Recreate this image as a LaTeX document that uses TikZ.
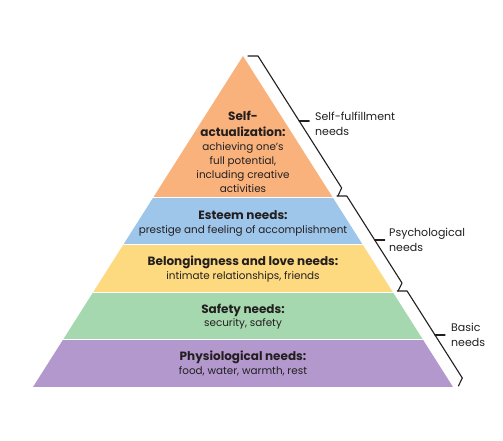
\documentclass[tikz,border=0pt]{standalone}
\usepackage{fontspec}
\setmainfont{Poppins}
\definecolor{ink}{HTML}{231F20}
\definecolor{cOrange}{RGB}{249,178,124}
\definecolor{cBlue}{RGB}{158,197,234}
\definecolor{cYellow}{RGB}{253,217,127}
\definecolor{cGreen}{RGB}{166,216,175}
\definecolor{cPurple}{RGB}{178,152,204}
\tikzset{
  title/.style={font=\bfseries\fontsize{12}{16}\selectfont, text=ink, inner sep=0pt, align=center},
  body/.style={font=\fontsize{10.4}{14}\selectfont, text=ink, inner sep=0pt, align=center},
  side/.style={font=\fontsize{11}{15.5}\selectfont, text=ink, align=left, anchor=west, inner sep=0pt},
  bracket/.style={draw=ink, line width=1.1pt, line join=round, line cap=round},
  sep/.style={draw=white, line width=0.7pt}
}
\begin{document}
\begin{tikzpicture}[x=1pt,y=-1pt]
\useasboundingbox (0,0) rectangle (503,441);
\fill[white] (0,0) rectangle (503,441);
% pyramid
\coordinate (apex) at (243,56);
\coordinate (bl) at (33,387);
\coordinate (br) at (453,387);
\begin{scope}
  \clip (apex) -- (br) -- (bl) -- cycle;
  \fill[cOrange] (0,40) rectangle (503,197);
  \fill[cBlue]   (0,197) rectangle (503,244);
  \fill[cYellow] (0,244) rectangle (503,292);
  \fill[cGreen]  (0,292) rectangle (503,339);
  \fill[cPurple] (0,339) rectangle (503,387);
  \draw[sep] (0,197) -- (503,197);
  \draw[sep] (0,244) -- (503,244);
  \draw[sep] (0,292) -- (503,292);
  \draw[sep] (0,339) -- (503,339);
\end{scope}
% texts in pyramid
\node[title] (sat) at (243,124) {Self-\\actualization:};
\node[body] (sab) at (243,168) {achieving one’s\\full potential,\\including creative\\activities};
\node[title] (est) at (243,215) {Esteem needs:};
\node[body] (esb) at (243,231) {prestige and feeling of accomplishment};
\node[title] (bet) at (243,262) {Belongingness and love needs:};
\node[body] (beb) at (243,277) {intimate relationships, friends};
\node[title] (sft) at (243,310) {Safety needs:};
\node[body] (sfb) at (243,324) {security, safety};
\node[title] (pht) at (243,357) {Physiological needs:};
\node[body] (phb) at (243,371) {food, water, warmth, rest};
% brackets
\draw[bracket] (248,56) -- (258,56) -- (299.2,121) -- (341.7,188) -- (337.8,196);
\draw[bracket] (299.2,121) -- (309.2,121);
\draw[bracket] (336.8,196) -- (346.8,196) -- (374.7,240) -- (402.0,283) -- (398.1,291);
\draw[bracket] (374.7,240) -- (384.7,240);
\draw[bracket] (397.1,291) -- (407.1,291) -- (435.0,335) -- (462.3,378) -- (458.4,386);
\draw[bracket] (435.0,335) -- (445.0,335);
% side labels
\node[side] (sf) at (315,124) {Self-fulfillment\\needs};
\node[side] (ps) at (389,240) {Psychological\\needs};
\node[side] (ba) at (451,335) {Basic\\needs};
\end{tikzpicture}
\end{document}
